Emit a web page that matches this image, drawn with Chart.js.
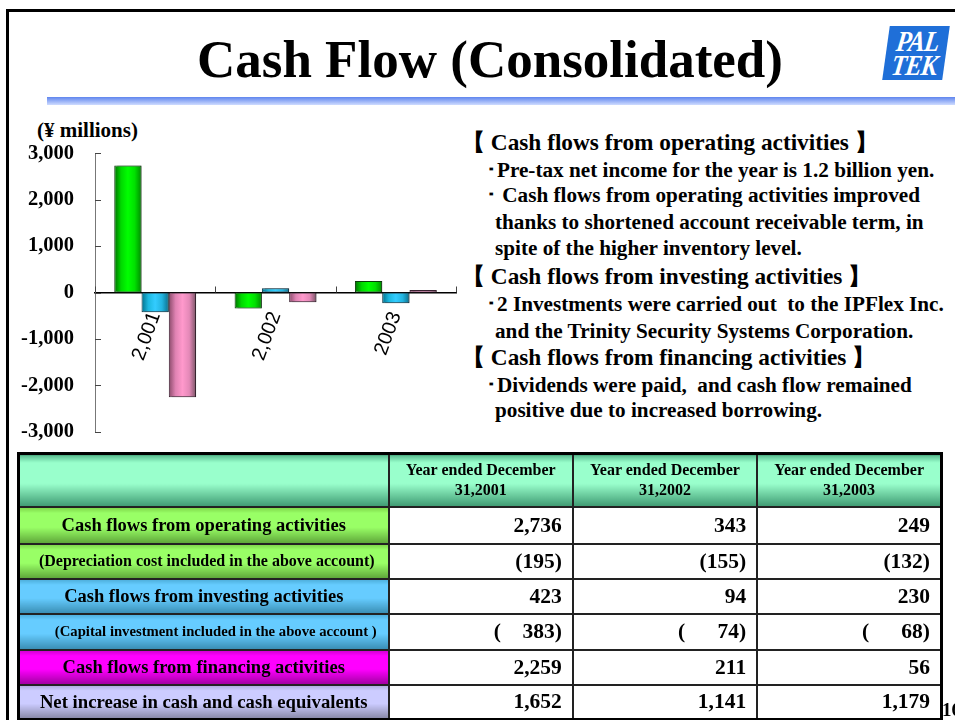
<!DOCTYPE html>
<html>
<head>
<meta charset="utf-8">
<script src="https://cdn.jsdelivr.net/npm/chart.js@4.4.1/dist/chart.umd.min.js"></script>
<style>
  body { margin: 0; width: 955px; height: 720px; overflow: hidden; background: #fff; position: relative; font-family: "Liberation Serif", "Times New Roman", serif; }
  .frame { position: absolute; left: 6px; top: 9px; width: 960px; height: 720px; border-left: 3px solid #000; border-top: 3px solid #000; }
  .title { position: absolute; left: 0; width: 980px; top: 27px; text-align: center; font-weight: bold; font-size: 53px; line-height: 64px; }
  .rule { position: absolute; left: 47px; top: 97px; width: 908px; height: 8px; background: linear-gradient(#5f85ee, #cfdcff); }
  .logo { position: absolute; left: 886px; top: 26px; width: 60px; height: 54px; background: #1f6fd8; transform: skewX(-8deg); }
  .logo span { position: absolute; left: 2px; width: 56px; color: #fff; font-family: "Liberation Serif", serif; font-style: italic; font-weight: bold; font-size: 29px; line-height: 24px; letter-spacing: -1px; text-align: center; transform: scaleX(0.85); }
  .unit { position: absolute; left: 37px; top: 118px; font-weight: bold; font-size: 21px; }
  #chartBox { position: absolute; left: 0; top: 120px; width: 462px; height: 345px; }
  .txt { position: absolute; font-weight: bold; white-space: nowrap; line-height: 26px; }
  .hd { font-size: 23.3px; }
  .bd { font-size: 21.2px; }
  table { position: absolute; left: 17px; top: 452px; width: 926px; border-collapse: collapse; border: 3px solid #000; table-layout: fixed; }
  td { border: 2px solid #222; font-weight: bold; padding: 0 10px; }
  td.v { text-align: right; font-size: 21.5px; background: #fff; }
  td.lab { text-align: center; font-size: 18.5px; padding: 0 2px; white-space: nowrap; }
  td.head { text-align: center; font-size: 16px; line-height: 20px; padding: 0 2px; background: linear-gradient(#5cbf92 0%, #99ffcc 14%, #99ffcc 55%, #3f9a72 100%); }
</style>
</head>
<body>
<div class="frame"></div>
<div class="title">Cash Flow (Consolidated)</div>
<div class="logo"><span style="top:3px">PAL</span><span style="top:27px">TEK</span></div>
<div class="rule"></div>
<div class="unit">(¥ millions)</div>
<div id="chartBox"><canvas id="cashChart"></canvas></div>
<div id="notes"></div>
<table id="cfTable"></table>

<script>
// chart data (¥ millions)
const years = ['2,001', '2,002', '2003'];
const operating = [2736, -343, 249];
const investing = [-423, 94, -230];
const financing = [-2259, -211, 56];
const yTicks = [-3000, -2000, -1000, 0, 1000, 2000, 3000];

// table data
const tableHeads = ['Year ended December<br>31,2001', 'Year ended December<br>31,2002', 'Year ended December<br>31,2003'];
const rowLabels = [
    'Cash flows from operating activities',
    '(Depreciation cost included in the above account)',
    'Cash flows from investing activities',
    '(Capital investment included in the above account )',
    'Cash flows from financing activities',
    'Net increase in cash and cash equivalents'
];
const rowValues = [
    ['2,736', '343', '249'],
    ['(195)', '(155)', '(132)'],
    ['423', '94', '230'],
    ['(&nbsp;&nbsp;&nbsp;&nbsp;383)', '(&nbsp;&nbsp;&nbsp;&nbsp;&nbsp;&nbsp;74)', '(&nbsp;&nbsp;&nbsp;&nbsp;&nbsp;&nbsp;68)'],
    ['2,259', '211', '56'],
    ['1,652', '1,141', '1,179']
];
const rowFills = [
    'linear-gradient(#7fd84c 0%, #99ff66 15%, #99ff66 55%, #5fa83a 100%)',
    'linear-gradient(#7fd84c 0%, #99ff66 15%, #99ff66 55%, #5fa83a 100%)',
    'linear-gradient(#4fb0dd 0%, #66ccff 15%, #66ccff 55%, #3a8fb5 100%)',
    'linear-gradient(#4fb0dd 0%, #66ccff 15%, #66ccff 55%, #3a8fb5 100%)',
    'linear-gradient(#d400d4 0%, #ff00ff 15%, #ff00ff 55%, #a300a3 100%)',
    'linear-gradient(#b0b0e0 0%, #ccccff 15%, #ccccff 55%, #8a8aaa 100%)'
];
const rowFonts = [18.5, 16, 18.5, 14.7, 18.5, 18.7];
const rowIndent = [0, 6, 0, 24, 0, 0];
const rowHeights = [37, 35, 35, 36, 35, 35];

// note lines: [kind, left, top, text]
const noteLines = [
    ['hd', 462, 129, '【 Cash flows from operating activities 】'],
    ['bd', 486, 157, '･Pre-tax net income for the year is 1.2 billion yen.'],
    ['bd', 486, 182, '･ Cash flows from operating activities improved'],
    ['bd', 495, 209, 'thanks to shortened account receivable term, in'],
    ['bd', 495, 235, 'spite of the higher inventory level.'],
    ['hd', 462, 263, '【 Cash flows from investing activities 】'],
    ['bd', 486, 291, '･2 Investments were carried out&nbsp; to the IPFlex Inc.'],
    ['bd', 495, 318, 'and the Trinity Security Systems Corporation.'],
    ['hd', 462, 344, '【 Cash flows from financing activities 】'],
    ['bd', 486, 372, '･Dividends were paid,&nbsp; and cash flow remained'],
    ['bd', 495, 397, 'positive due to increased borrowing.']
];

const shades = [
    ['#006f00', '#00d800', '#00ff00', '#00e000', '#008a00'],
    ['#006f8a', '#1cb8e0', '#33ccff', '#22b4e0', '#0a6f8c'],
    ['#8a4a6a', '#e083b3', '#ff99cc', '#e489b8', '#7a5566']
];
const shadeStops = [0, 0.25, 0.5, 0.75, 1];

document.getElementById('notes').innerHTML = noteLines
    .map(l => `<div class="txt ${l[0]}" style="left:${l[1]}px;top:${l[2]}px">${l[3]}</div>`)
    .join('');

let html = '<colgroup><col style="width:370px"><col><col><col></colgroup>';
html += '<tr style="height:53px"><td class="head"></td>' + tableHeads.map(h => `<td class="head">${h}</td>`).join('') + '</tr>';
rowLabels.forEach((lab, i) => {
    html += `<tr style="height:${rowHeights[i]}px"><td class="lab" style="font-size:${rowFonts[i]}px;padding-left:${2 + rowIndent[i]}px;background:${rowFills[i]}">${lab}</td>`;
    html += rowValues[i].map(v => `<td class="v">${v}</td>`).join('') + '</tr>';
});
document.getElementById('cfTable').innerHTML = html;

// shade each bar with a horizontal gradient, after the bars are laid out
const barShade = {
    id: 'barShade',
    beforeDatasetsDraw(chart) {
        const c = chart.ctx;
        chart.data.datasets.forEach((ds, i) => {
            chart.getDatasetMeta(i).data.forEach(bar => {
                const g = c.createLinearGradient(bar.x - bar.width / 2, 0, bar.x + bar.width / 2, 0);
                shades[i].forEach((col, k) => g.addColorStop(shadeStops[k], col));
                bar.options = Object.assign({}, bar.options, { backgroundColor: g });
            });
        });
    },
    beforeDatasetDraw(chart) {
        const c = chart.ctx;
        c.save();
        c.shadowColor = 'rgba(0,0,0,0.35)';
        c.shadowOffsetX = 3;
        c.shadowOffsetY = 0;
        c.shadowBlur = 0;
    },
    afterDatasetDraw(chart) {
        chart.ctx.restore();
    }
};

// tick marks point into the plot, as in the slide
const innerTicks = {
    id: 'innerTicks',
    afterDraw(chart) {
        const c = chart.ctx;
        const xs = chart.scales.x, ys = chart.scales.y;
        const zero = ys.getPixelForValue(0);
        c.save();
        c.lineWidth = 1;
        c.strokeStyle = '#444';
        ys.ticks.forEach((t, i) => {
            const py = Math.round(ys.getPixelForTick(i)) + 0.5;
            c.beginPath();
            c.moveTo(ys.right, py);
            c.lineTo(ys.right + 6, py);
            c.stroke();
        });
        for (let i = 0; i <= years.length; i++) {
            const px = Math.round(xs.getPixelForValue(i - 0.5)) + 0.5;
            c.beginPath();
            c.moveTo(px, zero);
            c.lineTo(px, zero - 6);
            c.stroke();
        }
        c.restore();
    }
};

new Chart(document.getElementById('cashChart'), {
    type: 'bar',
    data: {
        labels: years,
        datasets: [
            { label: 'Operating', data: operating, borderColor: '#0b3a0b' },
            { label: 'Investing', data: investing, borderColor: '#0b3344' },
            { label: 'Financing', data: financing, borderColor: '#3a2030' }
        ]
    },
    options: {
        responsive: true,
        maintainAspectRatio: false,
        animation: false,
        events: [],
        layout: { padding: { top: 0, bottom: 0, right: 6, left: 0 } },
        datasets: {
            bar: { categoryPercentage: 0.68, barPercentage: 1.0, borderWidth: 1, borderSkipped: false }
        },
        plugins: { legend: { display: false }, tooltip: { enabled: false } },
        scales: {
            x: {
                position: { y: 0 },
                grid: { display: false },
                border: { display: true, color: '#000', width: 1.5 },
                ticks: {
                    minRotation: 70,
                    maxRotation: 70,
                    padding: 8,
                    color: '#000',
                    font: { family: '"Liberation Sans", Arial, sans-serif', size: 20 }
                }
            },
            y: {
                min: -3000,
                max: 3000,
                afterFit(scale) { scale.width = 95; },
                afterBuildTicks(scale) { scale.ticks = yTicks.map(v => ({ value: v })); },
                grid: { display: false, drawTicks: false },
                border: { display: true, color: '#777', width: 1 },
                ticks: {
                    padding: 21,
                    color: '#000',
                    font: { family: '"Liberation Serif", "Times New Roman", serif', size: 20.5, weight: 'bold' },
                    callback: v => v.toLocaleString('en-US')
                }
            }
        }
    },
    plugins: [barShade, innerTicks]
});
</script>
<div class="txt" style="left:942px;top:697px;font-size:19px">16</div>
</body>
</html>
